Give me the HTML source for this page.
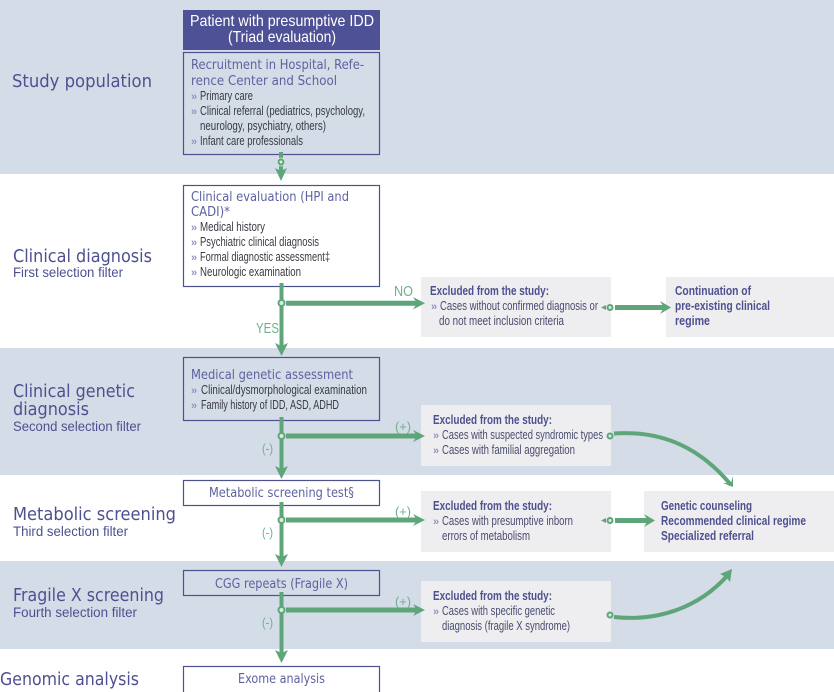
<!DOCTYPE html>
<html><head><meta charset="utf-8"><style>
html,body{margin:0;padding:0;background:#fff}
svg{display:block}
text{font-family:"Liberation Sans",sans-serif}
.t{font-family:"DejaVu Sans",sans-serif;font-size:18px;fill:#4e5190}
.s{font-size:13.500px;fill:#4e5190}
.h{font-family:"DejaVu Sans",sans-serif;font-size:13.500px;fill:#5d629f}
.b{font-size:12.500px;fill:#3a3a42}
.x{font-size:12.500px;fill:#4a4c70}
.e{font-size:12.500px;font-weight:bold;fill:#4e5190}
.g{font-size:13px;fill:#6fb18b}
.m{font-size:11px;font-weight:bold;fill:#8f95c0}
.box{fill:#fff;stroke:#4e5190;stroke-width:1.2}
.bx{fill:none;stroke:#4e5190;stroke-width:1.2}
.ln{stroke:#5ea67a;stroke-width:4;fill:none}
.ar{fill:#5ea67a}
.ci{fill:#d9ecdf;stroke:#5ea67a;stroke-width:2}
.ha{fill:#d9ecdf;opacity:.8}
</style></head><body>
<svg width="834" height="692" viewBox="0 0 834 692" xmlns="http://www.w3.org/2000/svg">
<rect width="834" height="692" fill="#fff"/>
<rect y="0" width="834" height="174" fill="#d3dce7"/>
<rect y="348" width="834" height="127" fill="#d3dce7"/>
<rect y="561" width="834" height="88" fill="#d3dce7"/>

<rect x="421" y="277" width="190" height="60" fill="#eeedef"/>
<rect x="666" y="277" width="168" height="60" fill="#eeedef"/>
<rect x="421" y="405" width="190" height="61" fill="#eeedef"/>
<rect x="421" y="491" width="190" height="61" fill="#eeedef"/>
<rect x="644" y="491" width="190" height="61" fill="#eeedef"/>
<rect x="421" y="581" width="190" height="61" fill="#eeedef"/>

<rect x="183" y="10" width="197" height="40" fill="#4e5195"/>
<rect class="bx" x="183.500" y="52.500" width="196" height="102"/>
<rect class="box" x="183.500" y="185.500" width="196" height="101"/>
<rect class="bx" x="183.500" y="357.500" width="196" height="63"/>
<rect class="box" x="183.500" y="480.500" width="196" height="25"/>
<rect class="bx" x="183.500" y="570.500" width="196" height="25"/>
<rect class="box" x="183.500" y="666.500" width="196" height="40"/>

<path class="ln" d="M281 152V172"/><polygon class="ar" points="275,168 281,171 287,168 281,181"/>
<circle class="ha" cx="281" cy="162" r="4.500"/><circle class="ci" cx="281" cy="162" r="2.500"/>

<path class="ln" d="M281.500 283V347"/><polygon class="ar" points="275,343 281.500,346 288,343 281.500,356"/>
<path class="ln" d="M286 303.300H417" style="stroke-width:5"/><polygon class="ar" points="413,297 417,303.300 413,309.500 425,303.300"/>
<circle class="ci" cx="281.500" cy="303" r="3"/>

<path class="ln" d="M281.500 417V470"/><polygon class="ar" points="275,466 281.500,469 288,466 281.500,479"/>
<path class="ln" d="M286 436H417" style="stroke-width:5"/><polygon class="ar" points="413,430 417,436 413,442 425,436"/>
<circle class="ci" cx="281.500" cy="436" r="3"/>

<path class="ln" d="M281.500 502V558"/><polygon class="ar" points="275,554 281.500,557 288,554 281.500,567"/>
<path class="ln" d="M286 520H417" style="stroke-width:5"/><polygon class="ar" points="413,514 417,520 413,526 425,520"/>
<circle class="ci" cx="281.500" cy="520" r="3"/>

<path class="ln" d="M281.500 592V654"/><polygon class="ar" points="275,650 281.500,653 288,650 281.500,663"/>
<path class="ln" d="M286 610H417" style="stroke-width:5"/><polygon class="ar" points="413,604 417,610 413,616 425,610"/>
<circle class="ci" cx="281.500" cy="610" r="3"/>

<path class="ln" d="M615 307.500H664" style="stroke-width:5"/><polygon class="ar" points="660,301 664,307.500 660,314 671,307.500"/>
<polygon class="ar" points="601,307.500 606,305 606,310"/>
<circle class="ci" cx="610" cy="307.500" r="2.500"/>

<path class="ln" d="M615 520.500H648" style="stroke-width:5"/><polygon class="ar" points="644,514 648,520.500 644,527 655,520.500"/>
<polygon class="ar" points="601,520.500 606,518 606,523"/>
<circle class="ci" cx="610" cy="520.500" r="2.500"/>

<path class="ln" d="M614 433.500C665 430 702 450 731 485"/>
<polygon class="ar" points="723,483 731,483 733,476 733,487"/>
<circle class="ci" cx="610" cy="436" r="2.500"/>

<path class="ln" d="M614 617C660 622 700 606 727 576"/>
<polygon class="ar" points="720,574 732,569 730,582 726,577"/>
<circle class="ci" cx="610" cy="615" r="2.500"/>

<text x="190" y="26" font-size="16" fill="#fff" textLength="184" lengthAdjust="spacingAndGlyphs">Patient with presumptive IDD</text>
<text x="228" y="42" font-size="16" fill="#fff" textLength="108" lengthAdjust="spacingAndGlyphs">(Triad evaluation)</text>

<text class="t" x="12" y="87" textLength="140" lengthAdjust="spacingAndGlyphs">Study population</text>
<text class="t" x="13" y="262" textLength="139" lengthAdjust="spacingAndGlyphs">Clinical diagnosis</text>
<text class="s" x="13" y="277" textLength="110" lengthAdjust="spacingAndGlyphs">First selection filter</text>
<text class="t" x="13" y="397" textLength="122" lengthAdjust="spacingAndGlyphs">Clinical genetic</text>
<text class="t" x="13" y="415" textLength="76" lengthAdjust="spacingAndGlyphs">diagnosis</text>
<text class="s" x="13" y="431" textLength="128" lengthAdjust="spacingAndGlyphs">Second selection filter</text>
<text class="t" x="13" y="520" textLength="163" lengthAdjust="spacingAndGlyphs">Metabolic screening</text>
<text class="s" x="13" y="536" textLength="115" lengthAdjust="spacingAndGlyphs">Third selection filter</text>
<text class="t" x="13" y="601" textLength="151" lengthAdjust="spacingAndGlyphs">Fragile X screening</text>
<text class="s" x="13" y="617" textLength="124" lengthAdjust="spacingAndGlyphs">Fourth selection filter</text>
<text class="t" x="0" y="685" textLength="139" lengthAdjust="spacingAndGlyphs">Genomic analysis</text>

<text class="h" x="191" y="69" textLength="173" lengthAdjust="spacingAndGlyphs">Recruitment in Hospital, Refe-</text>
<text class="h" x="191" y="85" textLength="146" lengthAdjust="spacingAndGlyphs">rence Center and School</text>
<text class="m" x="191" y="100">»</text><text class="b" x="200" y="100" textLength="53" lengthAdjust="spacingAndGlyphs">Primary care</text>
<text class="m" x="191" y="115">»</text><text class="b" x="200" y="115" textLength="165" lengthAdjust="spacingAndGlyphs">Clinical referral (pediatrics, psychology,</text>
<text class="b" x="200" y="130" textLength="126" lengthAdjust="spacingAndGlyphs">neurology, psychiatry, others)</text>
<text class="m" x="191" y="145">»</text><text class="b" x="200" y="145" textLength="103" lengthAdjust="spacingAndGlyphs">Infant care professionals</text>

<text class="h" x="191" y="201" textLength="158" lengthAdjust="spacingAndGlyphs">Clinical evaluation (HPI and</text>
<text class="h" x="191" y="216" textLength="39" lengthAdjust="spacingAndGlyphs">CADI)*</text>
<text class="m" x="191" y="231">»</text><text class="b" x="200" y="231" textLength="65" lengthAdjust="spacingAndGlyphs">Medical history</text>
<text class="m" x="191" y="246">»</text><text class="b" x="200" y="246" textLength="119" lengthAdjust="spacingAndGlyphs">Psychiatric clinical diagnosis</text>
<text class="m" x="191" y="261">»</text><text class="b" x="200" y="261" textLength="130" lengthAdjust="spacingAndGlyphs">Formal diagnostic assessment‡</text>
<text class="m" x="191" y="276">»</text><text class="b" x="200" y="276" textLength="101" lengthAdjust="spacingAndGlyphs">Neurologic examination</text>

<text class="h" x="191" y="379" textLength="162" lengthAdjust="spacingAndGlyphs">Medical genetic assessment</text>
<text class="m" x="191" y="394">»</text><text class="b" x="201" y="394" textLength="166" lengthAdjust="spacingAndGlyphs">Clinical/dysmorphological examination</text>
<text class="m" x="191" y="409">»</text><text class="b" x="201" y="409" textLength="138" lengthAdjust="spacingAndGlyphs">Family history of IDD, ASD, ADHD</text>

<text class="h" x="209" y="497" textLength="145" lengthAdjust="spacingAndGlyphs">Metabolic screening test§</text>
<text class="h" x="215" y="588" textLength="133" lengthAdjust="spacingAndGlyphs">CGG repeats (Fragile X)</text>
<text class="h" x="238" y="683" textLength="87" lengthAdjust="spacingAndGlyphs">Exome analysis</text>

<text class="g" x="394" y="296" style="font-size:15px" textLength="19" lengthAdjust="spacingAndGlyphs">NO</text>
<text class="g" x="256" y="333" style="font-size:15px" textLength="23" lengthAdjust="spacingAndGlyphs">YES</text>
<text class="g" x="395" y="431" textLength="16" lengthAdjust="spacingAndGlyphs">(+)</text>
<text class="g" x="262" y="453" textLength="11" lengthAdjust="spacingAndGlyphs">(-)</text>
<text class="g" x="395" y="516" textLength="16" lengthAdjust="spacingAndGlyphs">(+)</text>
<text class="g" x="262" y="537" textLength="11" lengthAdjust="spacingAndGlyphs">(-)</text>
<text class="g" x="395" y="606" textLength="16" lengthAdjust="spacingAndGlyphs">(+)</text>
<text class="g" x="262" y="627" textLength="11" lengthAdjust="spacingAndGlyphs">(-)</text>

<text class="e" x="430" y="295" textLength="119" lengthAdjust="spacingAndGlyphs">Excluded from the study:</text>
<text class="m" x="431" y="310">»</text><text class="x" x="440" y="310" textLength="158" lengthAdjust="spacingAndGlyphs">Cases without confirmed diagnosis or</text>
<text class="x" x="439" y="325" textLength="125" lengthAdjust="spacingAndGlyphs">do not meet inclusion criteria</text>

<text class="e" x="675" y="295" textLength="76" lengthAdjust="spacingAndGlyphs">Continuation of</text>
<text class="e" x="675" y="310" textLength="95" lengthAdjust="spacingAndGlyphs">pre-existing clinical</text>
<text class="e" x="675" y="325" textLength="35" lengthAdjust="spacingAndGlyphs">regime</text>

<text class="e" x="433" y="424" textLength="119" lengthAdjust="spacingAndGlyphs">Excluded from the study:</text>
<text class="m" x="433" y="439">»</text><text class="x" x="442" y="439" textLength="161" lengthAdjust="spacingAndGlyphs">Cases with suspected syndromic types</text>
<text class="m" x="433" y="454">»</text><text class="x" x="442" y="454" textLength="133" lengthAdjust="spacingAndGlyphs">Cases with familial aggregation</text>

<text class="e" x="433" y="510" textLength="119" lengthAdjust="spacingAndGlyphs">Excluded from the study:</text>
<text class="m" x="433" y="525">»</text><text class="x" x="442" y="525" textLength="131" lengthAdjust="spacingAndGlyphs">Cases with presumptive inborn</text>
<text class="x" x="442" y="540" textLength="88" lengthAdjust="spacingAndGlyphs">errors of metabolism</text>

<text class="e" x="661" y="510" textLength="91" lengthAdjust="spacingAndGlyphs">Genetic counseling</text>
<text class="e" x="661" y="525" textLength="145" lengthAdjust="spacingAndGlyphs">Recommended clinical regime</text>
<text class="e" x="661" y="540" textLength="93" lengthAdjust="spacingAndGlyphs">Specialized referral</text>

<text class="e" x="433" y="600" textLength="119" lengthAdjust="spacingAndGlyphs">Excluded from the study:</text>
<text class="m" x="433" y="615">»</text><text class="x" x="442" y="615" textLength="113" lengthAdjust="spacingAndGlyphs">Cases with specific genetic</text>
<text class="x" x="442" y="630" textLength="128" lengthAdjust="spacingAndGlyphs">diagnosis (fragile X syndrome)</text>
</svg>
</body></html>
